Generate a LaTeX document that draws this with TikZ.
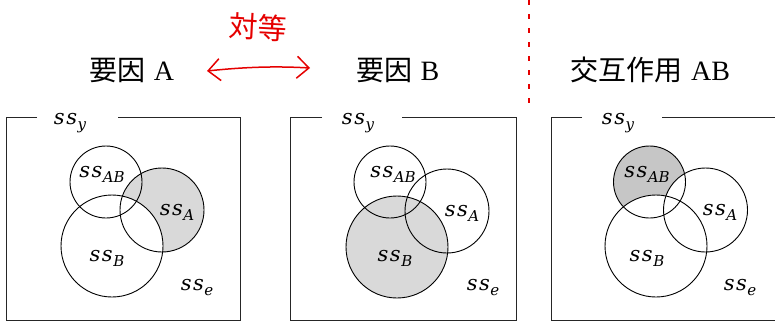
\documentclass[tikz,border=0pt]{standalone}
\usepackage{fontspec}
\setmainfont{Liberation Serif}
\newfontfamily\cjk{Noto Sans CJK JP}
\newfontfamily\ssf{DejaVu Serif}
\newcommand\sslab[1]{{\ssf\itshape\fontsize{21}{24}\selectfont s\kern1.5pt s\kern0.5pt\raisebox{-5pt}{\fontsize{15}{16}\selectfont #1}}}
\usetikzlibrary{arrows.meta}
\tikzset{
  panelbox/.style={line width=0.9pt, black!85},
  venn/.style={circle, draw, line width=0.9pt, inner sep=0pt},
  rAB/.style={venn, minimum size=72pt},
  rA/.style={venn, minimum size=84pt},
  rB/.style={venn, minimum size=102pt},
  sslabel/.style={inner sep=0pt},
  title/.style={font=\fontsize{28}{32}\selectfont, inner sep=0pt},
  redmark/.style={red!90!black, line width=1.5pt},
}
\begin{document}
\begin{tikzpicture}[x=1pt,y=-1pt]
\useasboundingbox (0,0) rectangle (775,322);

% titles
\node[title] (tA) at (132,70) {{\cjk 要因}\hspace{8pt}A};
\node[title] (tB) at (398,70) {{\cjk 要因}\hspace{8pt}B};
\node[title] (tAB) at (650,70) {{\cjk 交互作用}\hspace{9pt}AB};

% red annotations
\node[font=\cjk\fontsize{29}{32}\selectfont, text=red!90!black, rotate=-3] (taito) at (258,27) {対等};
\coordinate (arrL) at (207,71);
\coordinate (arrR) at (310,68);
\draw[redmark, {Straight Barb[length=12pt,width=22pt]}-{Straight Barb[length=12pt,width=22pt]}]
  (arrL) .. controls (245,67) and (275,66) .. (arrR);
\coordinate (dtop) at (529,0);
\coordinate (dbot) at (529,106);
\draw[redmark, dash pattern=on 5pt off 9pt] (dtop) -- (dbot);

% ---------- panel 1 ----------
\coordinate (p1gl) at (37,117);
\coordinate (p1gr) at (118,117);
\draw[panelbox] (p1gl) -- (6,117) -- (6,320) -- (240,320) -- (240,117) -- (p1gr);
\fill[gray!30] (162,210) circle (42);
\fill[white] (112,246) circle (51);
\node[rAB] (c1AB) at (106,182) {};
\node[rA] (c1A) at (162,210) {};
\node[rB] (c1B) at (112,246) {};
\node[sslabel] (l1y) at (70,123) {\sslab{y}};
\node[sslabel] (l1AB) at (102,174) {\sslab{AB}};
\node[sslabel] (l1A) at (177,212) {\sslab{A}};
\node[sslabel] (l1B) at (107,258) {\sslab{B}};
\node[sslabel] (l1e) at (197,287) {\sslab{e}};

% ---------- panel 2 ----------
\coordinate (p2gl) at (322,117);
\coordinate (p2gr) at (402,117);
\draw[panelbox] (p2gl) -- (290,117) -- (290,320) -- (516,320) -- (516,117) -- (p2gr);
\fill[gray!30] (397,247) circle (51);
\node[rAB] (c2AB) at (390,182) {};
\node[rA] (c2A) at (447,211) {};
\node[rB] (c2B) at (397,247) {};
\node[sslabel] (l2y) at (358,123) {\sslab{y}};
\node[sslabel] (l2AB) at (393,174) {\sslab{AB}};
\node[sslabel] (l2A) at (462,213) {\sslab{A}};
\node[sslabel] (l2B) at (395,258) {\sslab{B}};
\node[sslabel] (l2e) at (483,287) {\sslab{e}};

% ---------- panel 3 ----------
\coordinate (p3gl) at (582,117);
\coordinate (p3gr) at (662,117);
\coordinate (p3tr) at (776,117);
\coordinate (p3br) at (776,320);
\draw[panelbox] (p3gl) -- (551,117) -- (551,320) -- (p3br);
\draw[panelbox] (p3gr) -- (p3tr);
\fill[gray!45] (649.5,182) circle (36);
\fill[white] (705.5,210) circle (42);
\fill[white] (656,246) circle (51);
\node[rAB] (c3AB) at (649.5,182) {};
\node[rA] (c3A) at (705.5,210) {};
\node[rB] (c3B) at (656,246) {};
\node[sslabel] (l3y) at (618,123) {\sslab{y}};
\node[sslabel] (l3AB) at (647,174) {\sslab{AB}};
\node[sslabel] (l3A) at (720,212) {\sslab{A}};
\node[sslabel] (l3B) at (647,258) {\sslab{B}};
\node[sslabel] (l3e) at (740,287) {\sslab{e}};
\end{tikzpicture}
\end{document}
